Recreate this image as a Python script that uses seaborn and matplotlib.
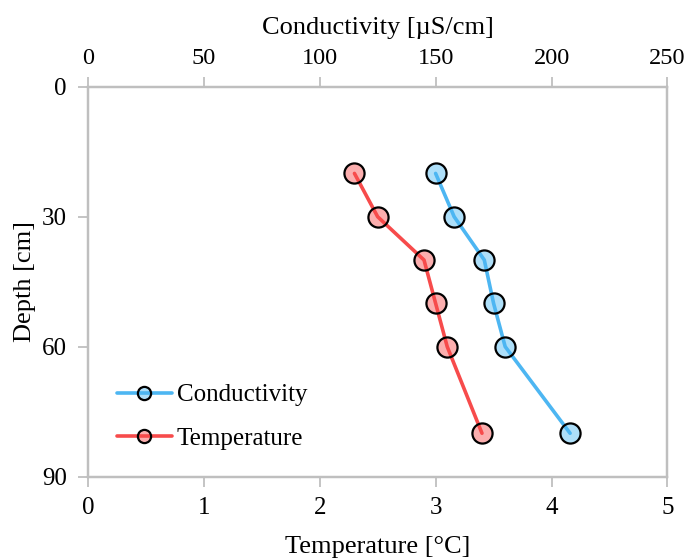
import matplotlib
matplotlib.use("Agg")
import matplotlib.pyplot as plt
from matplotlib.lines import Line2D
import seaborn as sns
import pandas as pd

# Depth profile measurements
depth_cm = [20, 30, 40, 50, 60, 80]
temperature_c = [2.3, 2.5, 2.9, 3.0, 3.1, 3.4]
conductivity_us = [150, 158, 171, 175, 180, 208]

temp_ticks = [0, 1, 2, 3, 4, 5]
cond_ticks = [0, 50, 100, 150, 200, 250]
depth_ticks = [0, 30, 60, 90]

cond_line, cond_fill = "#4DB6F2", (0.30, 0.72, 0.95, 0.45)
temp_line, temp_fill = "#F74B4B", (0.97, 0.30, 0.30, 0.45)
frame_grey = "#BFBFBF"

sns.set_theme(style="white")
plt.rcParams["font.family"] = ["Liberation Serif", "DejaVu Serif"]
plt.rcParams["text.color"] = "black"
plt.rcParams["xtick.color"] = "black"
plt.rcParams["ytick.color"] = "black"
plt.rcParams["axes.labelcolor"] = "black"

df = pd.DataFrame({"depth": depth_cm, "temp": temperature_c, "cond": conductivity_us})

fig = plt.figure(figsize=(6.86, 5.6), dpi=100)
ax = fig.add_axes([0.128, 0.149, 0.845, 0.696])
ax2 = ax.twiny()

marker_kw = dict(marker="o", markersize=14.5, markeredgecolor="black", markeredgewidth=1.6)

sns.lineplot(data=df, x="temp", y="depth", sort=False, estimator=None, ax=ax,
             color=temp_line, linewidth=2.6, markerfacecolor=temp_fill, **marker_kw)
sns.lineplot(data=df, x="cond", y="depth", sort=False, estimator=None, ax=ax2,
             color=cond_line, linewidth=2.6, markerfacecolor=cond_fill, **marker_kw)

ax.set_xlim(0, 5)
ax2.set_xlim(0, 250)
ax.set_ylim(90, 0)
ax.set_xticks(temp_ticks)
ax2.set_xticks(cond_ticks)
ax.set_yticks(depth_ticks)

for a in (ax, ax2):
    for s in a.spines.values():
        s.set_color(frame_grey)
        s.set_linewidth(1.6)
    a.grid(False)

ax.tick_params(axis="both", which="major", direction="out", length=7, width=1.3,
               color=frame_grey, labelcolor="black", labelsize=18, pad=8,
               bottom=True, left=True)
ax2.tick_params(axis="x", which="major", direction="out", length=7, width=1.3,
                color=frame_grey, labelcolor="black", labelsize=17.5, pad=6, top=True)

ax.set_xlabel("Temperature [°C]", fontsize=19)
ax.set_ylabel("Depth [cm]", fontsize=19)
ax2.set_xlabel("Conductivity [µS/cm]", fontsize=19)
ax.xaxis.set_label_coords(0.5, -0.152)
ax.yaxis.set_label_coords(-0.09, 0.5)
ax2.xaxis.set_label_coords(0.5, 1.135)

handles = [
    Line2D([], [], color=cond_line, linewidth=2.6, marker="o", markersize=9.5,
           markerfacecolor=cond_fill, markeredgecolor="black", markeredgewidth=1.6),
    Line2D([], [], color=temp_line, linewidth=2.6, marker="o", markersize=9.5,
           markerfacecolor=temp_fill, markeredgecolor="black", markeredgewidth=1.6),
]
ax2.legend(handles, ["Conductivity", "Temperature"], loc="center left",
           bbox_to_anchor=(0.05, 0.153), frameon=False, fontsize=18, borderpad=0,
           borderaxespad=0, handlelength=2.2, handletextpad=0.2, labelspacing=0.85,
           numpoints=1)

fig.savefig("out.png", dpi=100)
